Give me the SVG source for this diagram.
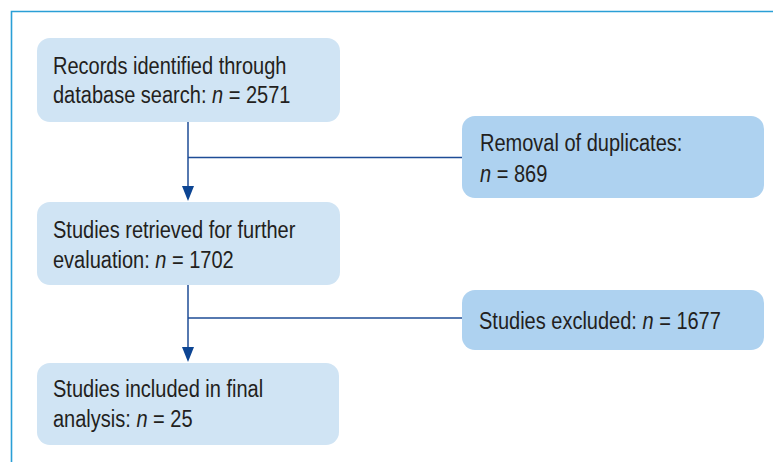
<svg xmlns="http://www.w3.org/2000/svg" width="773" height="462" viewBox="0 0 773 462">
<defs>
<style>
.frame{fill:none;stroke:#2a9fd6;stroke-width:1.6}
.boxL{fill:#d0e4f4}
.boxR{fill:#aed2f0}
.t{font-family:"Liberation Sans",Arial,sans-serif;font-size:23px;fill:#231f20}
.i{font-style:italic}
.c{fill:none;stroke:#1e4d96;stroke-width:1.5}
.ah{fill:#0d4593}
</style>
</defs>
<rect width="773" height="462" fill="#ffffff"/>
<path class="frame" d="M11.5,462 L11.5,11.5 L773,11.5"/>
<g id="connectors">
<path class="c" d="M188,122 L188,187"/>
<path class="ah" d="M182,186 L194,186 L188,201 Z"/>
<path class="c" d="M188,157.5 L462,157.5"/>
<path class="c" d="M188,285 L188,348"/>
<path class="ah" d="M182,347 L194,347 L188,362 Z"/>
<path class="c" d="M188,318 L462,318"/>
</g>
<g id="records">
<rect class="boxL" x="37" y="38" width="303" height="84" rx="13"/>
<text class="t" transform="translate(53,74) scale(0.87,1)">Records identified through</text>
<text class="t" transform="translate(53,103) scale(0.87,1)">database search: <tspan class="i">n</tspan> = 2571</text>
</g>
<g id="duplicates">
<rect class="boxR" x="462" y="116" width="302" height="82" rx="13"/>
<text class="t" transform="translate(480,151) scale(0.87,1)">Removal of duplicates:</text>
<text class="t" transform="translate(480,182) scale(0.87,1)"><tspan class="i">n</tspan> = 869</text>
</g>
<g id="retrieved">
<rect class="boxL" x="37" y="202" width="303" height="83" rx="13"/>
<text class="t" transform="translate(53,238) scale(0.87,1)">Studies retrieved for further</text>
<text class="t" transform="translate(53,268) scale(0.87,1)">evaluation: <tspan class="i">n</tspan> = 1702</text>
</g>
<g id="excluded">
<rect class="boxR" x="462" y="290" width="302" height="60" rx="13"/>
<text class="t" transform="translate(479,329) scale(0.87,1)">Studies excluded: <tspan class="i">n</tspan> = 1677</text>
</g>
<g id="included">
<rect class="boxL" x="37" y="363" width="302" height="82" rx="13"/>
<text class="t" transform="translate(53,397) scale(0.87,1)">Studies included in final</text>
<text class="t" transform="translate(53,427) scale(0.87,1)">analysis: <tspan class="i">n</tspan> = 25</text>
</g>
</svg>
